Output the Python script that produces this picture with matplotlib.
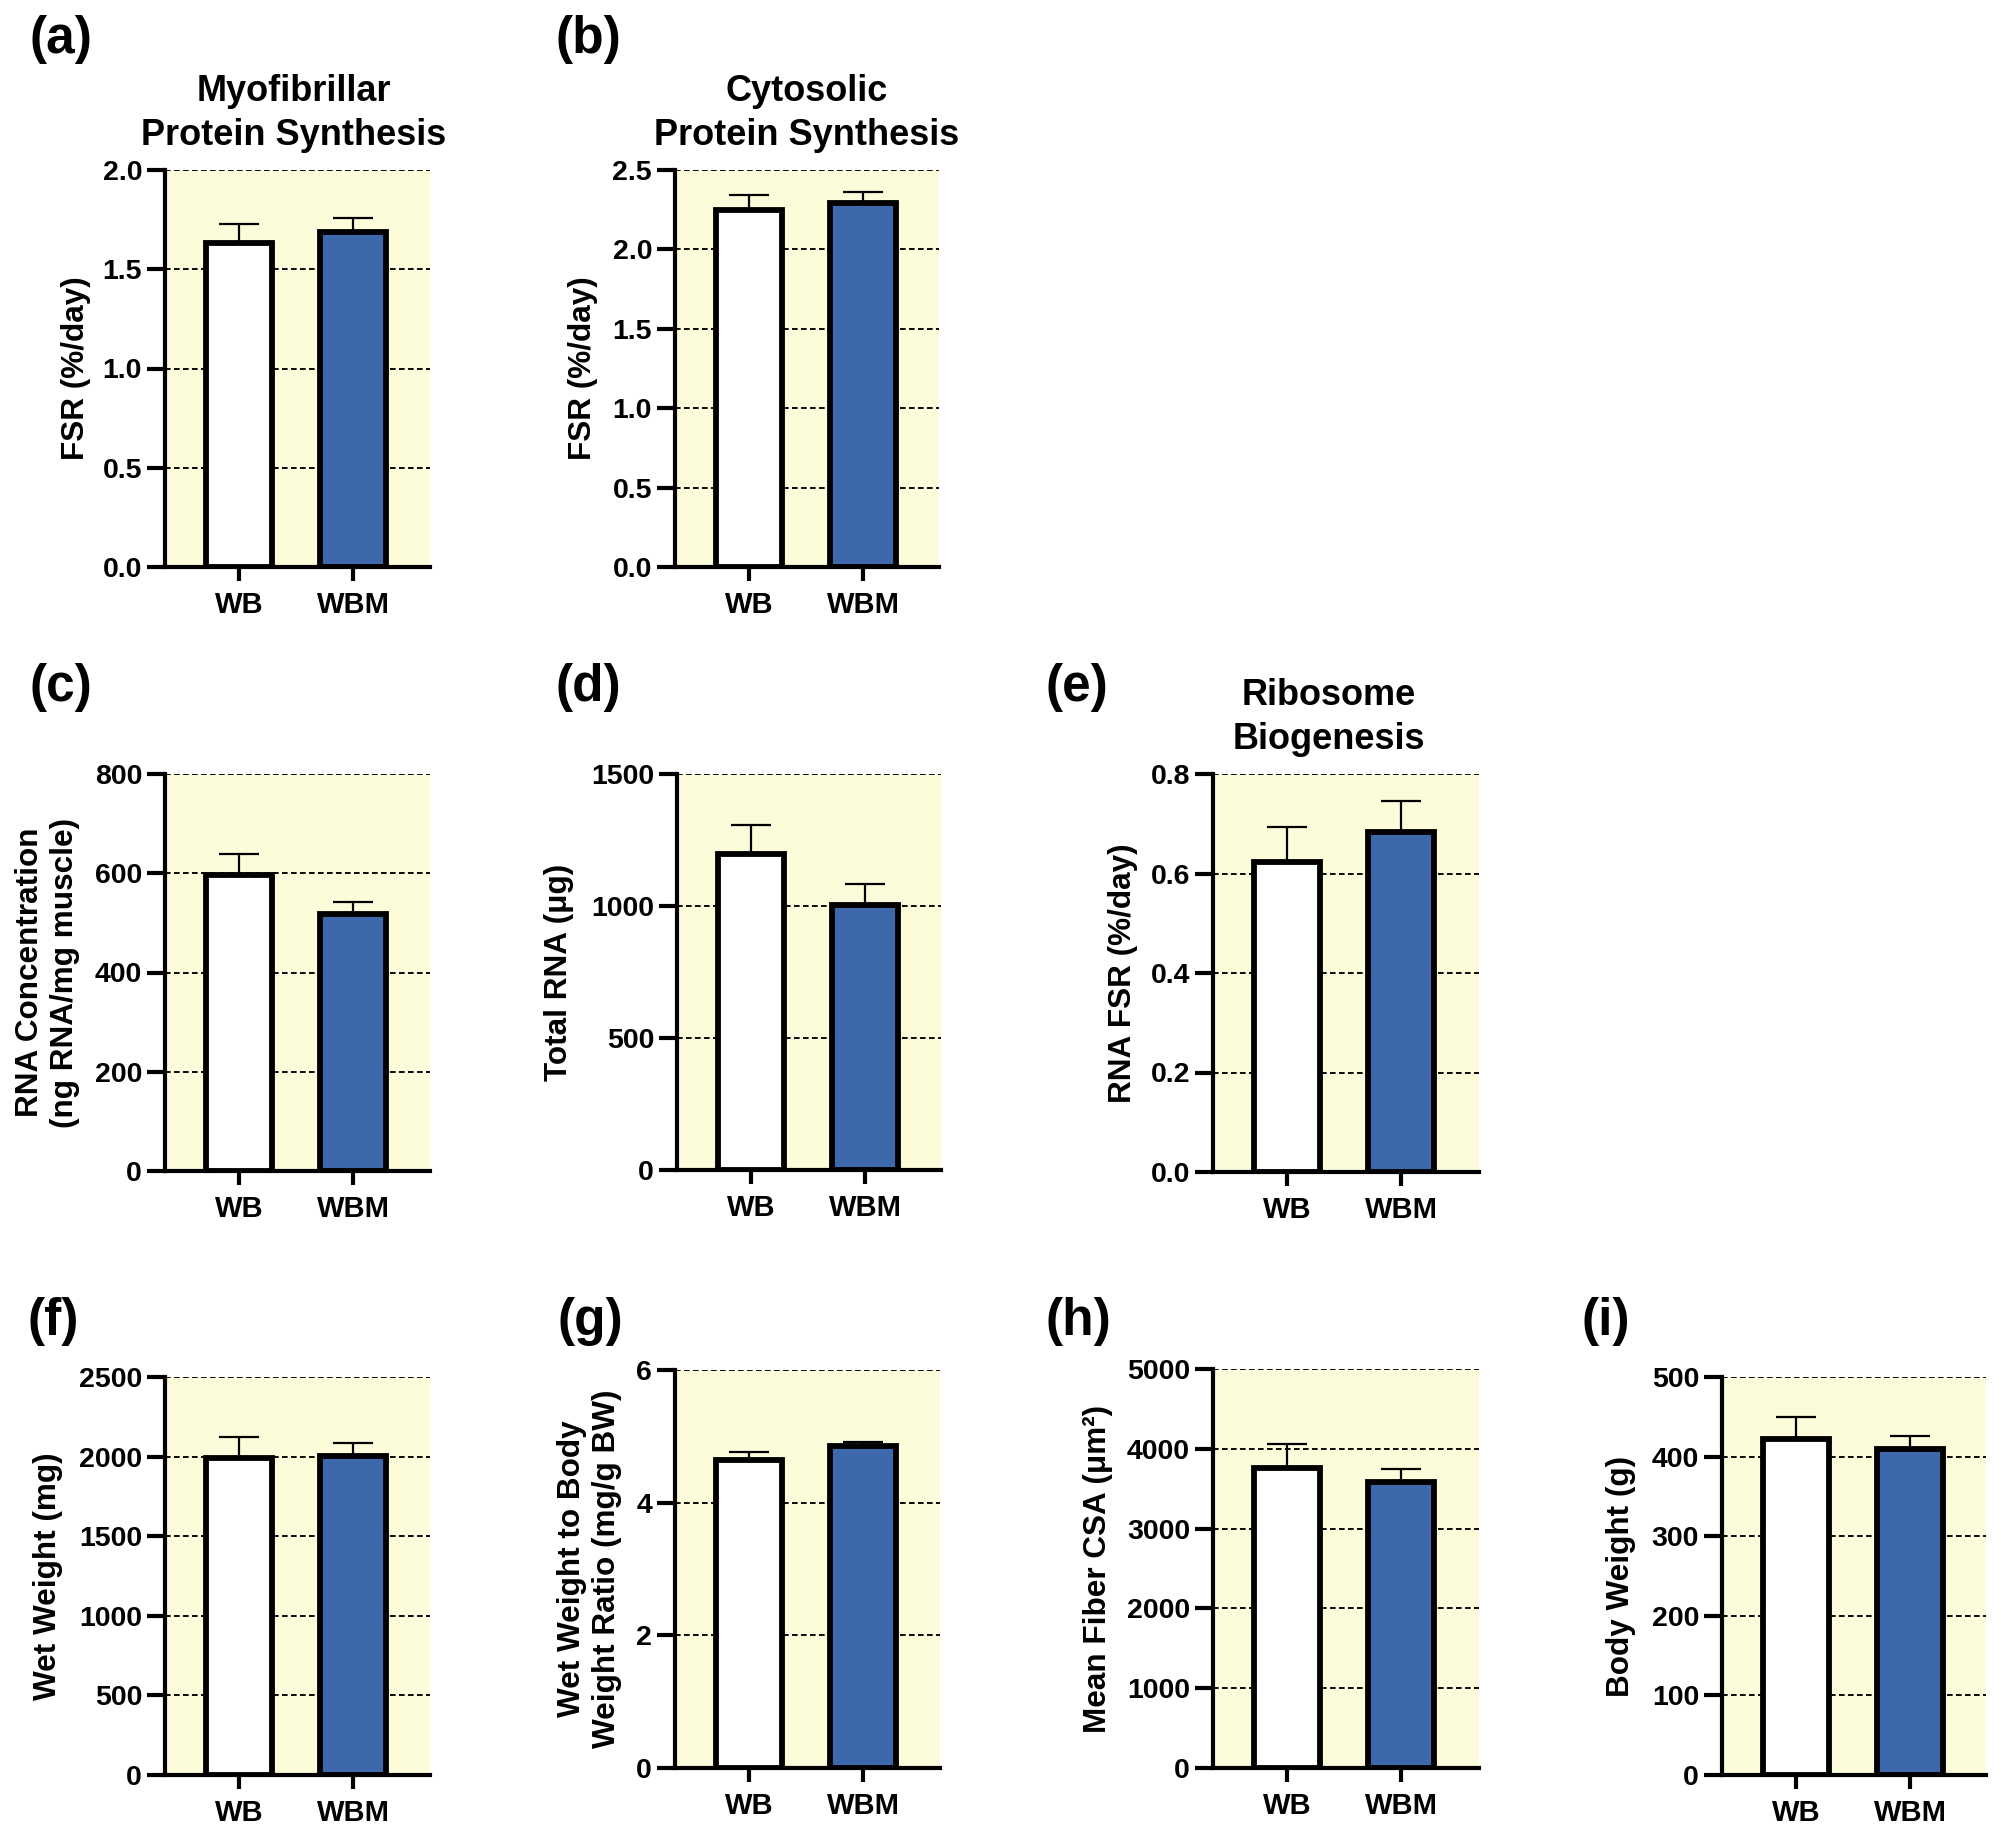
import numpy as np
import matplotlib
matplotlib.use('Agg')
import matplotlib.pyplot as plt
from matplotlib.ticker import MultipleLocator, FormatStrFormatter

plt.rcParams['font.family'] = ['Liberation Sans', 'DejaVu Sans']
plt.rcParams['font.weight'] = 'bold'
plt.rcParams['axes.labelweight'] = 'bold'
plt.rcParams['axes.titleweight'] = 'bold'

W, H = 2005, 1834

groups = ['WB', 'WBM']
bar_colors = ['white', '#3E68AC']
panel_bg = '#FCFCDB'

# means and upper SEM
myo_fsr = [1.63, 1.69]
myo_fsr_err = [0.10, 0.07]
cyto_fsr = [2.25, 2.29]
cyto_fsr_err = [0.09, 0.07]
rna_conc = [596, 517]
rna_conc_err = [42, 25]
total_rna = [1196, 1005]
total_rna_err = [112, 78]
rna_fsr = [0.623, 0.683]
rna_fsr_err = [0.071, 0.062]
wet_weight = [1990, 2001]
wet_weight_err = [135, 82]
ww_bw_ratio = [4.65, 4.85]
ww_bw_ratio_err = [0.12, 0.06]
fiber_csa = [3758, 3580]
fiber_csa_err = [297, 169]
body_weight = [422, 410]
body_weight_err = [28, 16]


def px_axes(x0, x1, y0, y1):
    # pixel box (left, right, top, bottom) -> figure fractions
    return [x0 / W, 1 - y1 / H, (x1 - x0) / W, (y1 - y0) / H]


def panel(fig, box, means, errs, ymax, step, ylabel, label_off, fmt=None,
          title=None, title_x=0.5):
    ax = fig.add_axes(px_axes(*box))
    width_px = box[1] - box[0]
    x = np.arange(len(groups))
    ax.set_facecolor(panel_bg)
    ax.set_axisbelow(True)
    ax.yaxis.grid(True, color='black', linewidth=1.35, linestyle=(0, (3.0, 1.8)))
    ax.errorbar(x, means, yerr=[np.zeros(len(means)), errs], fmt='none',
                ecolor='black', elinewidth=1.6, capsize=14.5, capthick=1.6,
                zorder=0.9)
    ax.bar(x, means, width=0.58, color=bar_colors, edgecolor='black',
           linewidth=4.2, zorder=1)
    ax.set_xlim(-0.65, -0.65 + width_px / 114.0)
    ax.set_ylim(0, ymax)
    ax.yaxis.set_major_locator(MultipleLocator(step))
    if fmt:
        ax.yaxis.set_major_formatter(FormatStrFormatter(fmt))
    ax.set_xticks(x)
    ax.set_xticklabels(groups)
    for s in ['top', 'right']:
        ax.spines[s].set_visible(False)
    for s in ['left', 'bottom']:
        ax.spines[s].set_linewidth(3.0)
    ax.tick_params(axis='y', length=13, width=3.0, pad=3.5, labelsize=20.5)
    ax.tick_params(axis='x', length=10, width=3.0, pad=7, labelsize=21)
    ax.set_ylabel(ylabel, fontsize=22.7)
    ax.yaxis.set_label_coords(label_off / width_px, 0.5)
    if title:
        ax.set_title(title, fontsize=26, pad=18, x=title_x, linespacing=1.32)
    return ax


fig = plt.figure(figsize=(W / 100, H / 100), dpi=100)

panel(fig, (165, 430, 170, 567), myo_fsr, myo_fsr_err, 2.0, 0.5,
      'FSR (%/day)', -74, '%.1f', 'Myofibrillar\nProtein Synthesis', 0.487)
panel(fig, (675, 939, 170, 567), cyto_fsr, cyto_fsr_err, 2.5, 0.5,
      'FSR (%/day)', -77, '%.1f', 'Cytosolic\nProtein Synthesis', 0.5)
panel(fig, (165, 430, 774, 1171), rna_conc, rna_conc_err, 800, 200,
      'RNA Concentration\n(ng RNA/mg muscle)', -85)
panel(fig, (677, 941, 774, 1170), total_rna, total_rna_err, 1500, 500,
      'Total RNA (\u03bcg)', -103)
panel(fig, (1213, 1479, 774, 1172), rna_fsr, rna_fsr_err, 0.8, 0.2,
      'RNA FSR (%/day)', -75, '%.1f', 'Ribosome\nBiogenesis', 0.436)
panel(fig, (165, 430, 1377, 1775), wet_weight, wet_weight_err, 2500, 500,
      'Wet Weight (mg)', -102)
panel(fig, (675, 940, 1370, 1768), ww_bw_ratio, ww_bw_ratio_err, 6, 2,
      'Wet Weight to Body\nWeight Ratio (mg/g BW)', -53)
panel(fig, (1213, 1479, 1369, 1768), fiber_csa, fiber_csa_err, 5000, 1000,
      'Mean Fiber CSA (\u03bcm\u00b2)', -100)
panel(fig, (1722, 1986, 1377, 1775), body_weight, body_weight_err, 500, 100,
      'Body Weight (g)', -86)

# panel letters
letters = [('(a)', 30, 39), ('(b)', 555, 39),
           ('(c)', 30, 688), ('(d)', 555, 688), ('(e)', 1046, 688),
           ('(f)', 28, 1321), ('(g)', 557, 1321), ('(h)', 1046, 1321),
           ('(i)', 1582, 1321)]
for txt, lx, ly in letters:
    fig.text(lx / W, 1 - ly / H, txt, fontsize=37, fontweight='bold',
             ha='left', va='center')

fig.savefig('out.png', dpi=100)
